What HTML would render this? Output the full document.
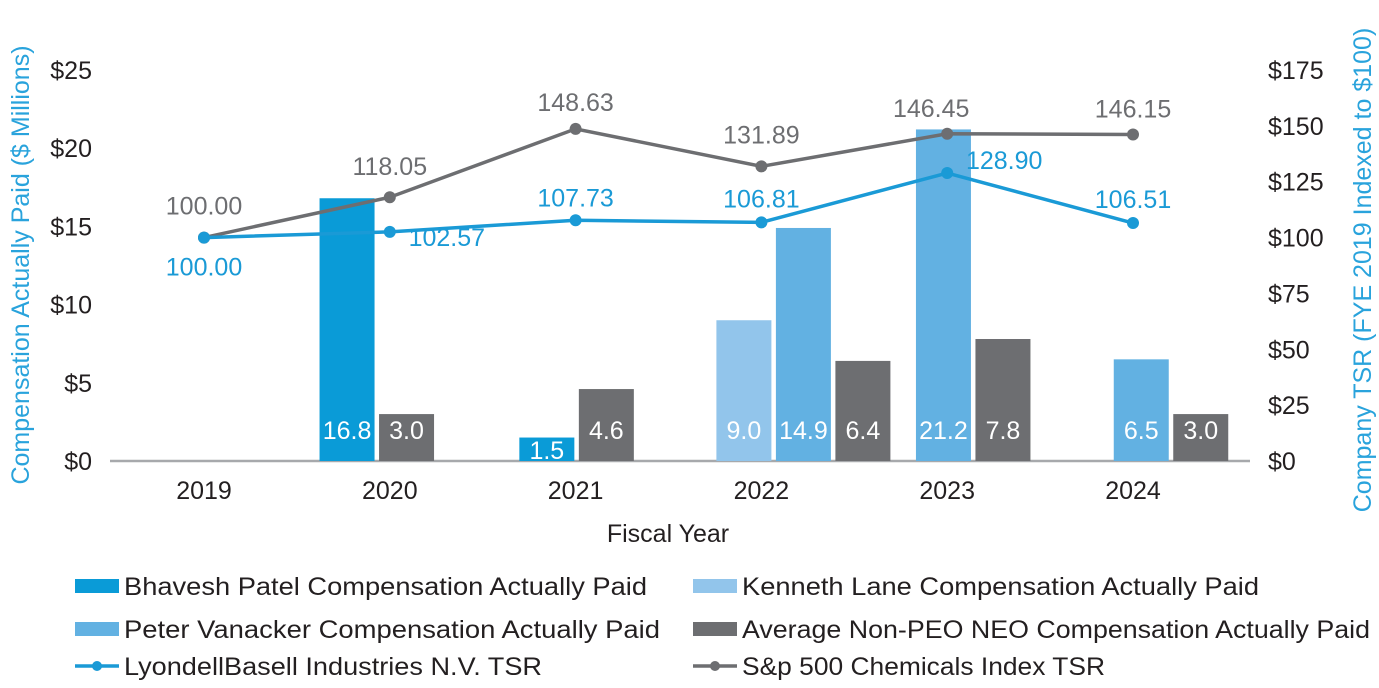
<!DOCTYPE html>
<html><head><meta charset="utf-8">
<style>
html,body{margin:0;padding:0;background:#fff;}
svg{display:block;font-family:"Liberation Sans Narrow","Liberation Sans",sans-serif;}
</style></head>
<body>
<svg id="chart" width="1379" height="688" viewBox="0 0 1379 688" xmlns="http://www.w3.org/2000/svg">
<g id="axes"></g>
<g id="bars"></g>
<g id="lines"></g>
<g id="legend"></g>
</svg>
<script>
const years = ["2019","2020","2021","2022","2023","2024"];
const bhavesh = [null, 16.8, 1.5, null, null, null];
const kenneth = [null, null, null, 9.0, null, null];
const peter = [null, null, null, 14.9, 21.2, 6.5];
const avgNeo = [null, 3.0, 4.6, 6.4, 7.8, 3.0];
const lybTsr = [100.00, 102.57, 107.73, 106.81, 128.90, 106.51];
const spTsr = [100.00, 118.05, 148.63, 131.89, 146.45, 146.15];
const leftTicks = [0, 5, 10, 15, 20, 25];
const rightTicks = [0, 25, 50, 75, 100, 125, 150, 175];

const NS = "http://www.w3.org/2000/svg";
const Y0 = 461, YTOP = 70;
const yL = v => Y0 - v * (Y0 - YTOP) / 25;
const yR = v => Y0 - v * (Y0 - YTOP) / 175;
const xC = i => 204 + i * 185.8;
const groupShift = [0, -13, 1, 42, 26, 38];
function mk(tag, attrs, parent, text) {
  const e = document.createElementNS(NS, tag);
  for (const k in attrs) e.setAttribute(k, attrs[k]);
  if (text !== undefined) e.textContent = text;
  parent.appendChild(e);
  return e;
}
const axes = document.getElementById('axes');
const barsG = document.getElementById('bars');
const linesG = document.getElementById('lines');
const legendG = document.getElementById('legend');

leftTicks.forEach(v => {
  const t = mk('text', {x: 92, y: yL(v) + 9, 'text-anchor': 'end', 'font-size': 25, fill: '#231f20'}, axes, '$' + v);
  
  
});
rightTicks.forEach(v => {
  const t = mk('text', {x: 1268, y: yR(v) + 9, 'font-size': 25, fill: '#231f20'}, axes, '$' + v);
  
  
});
years.forEach((y, i) => {
  const t = mk('text', {x: xC(i), y: 499, 'text-anchor': 'middle', 'font-size': 25, fill: '#231f20'}, axes, y);
  
  
});
let t = mk('text', {x: 668, y: 542, 'text-anchor': 'middle', 'font-size': 25, fill: '#231f20'}, axes, 'Fiscal Year');


t = mk('text', {x: 0, y: 0, 'text-anchor': 'middle', 'font-size': 25, fill: '#29a3dc', transform: 'translate(29,265) rotate(-90)'}, axes, 'Compensation Actually Paid ($ Millions)');


t = mk('text', {x: 0, y: 0, 'text-anchor': 'middle', 'font-size': 25, fill: '#29a3dc', transform: 'translate(1371,270) rotate(-90)'}, axes, 'Company TSR (FYE 2019 Indexed to $100)');



const series = [
  {vals: bhavesh, color: '#0a9bd7', name: 'bhavesh'},
  {vals: kenneth, color: '#92c5eb', name: 'kenneth'},
  {vals: peter, color: '#62b1e2', name: 'peter'},
  {vals: avgNeo, color: '#6d6e71', name: 'avg-neo'}
];
const BW = 55, GAP = 4.5;
years.forEach((y, i) => {
  const present = series.filter(s => s.vals[i] !== null);
  const total = present.length * BW + (present.length - 1) * GAP;
  let x = xC(i) + groupShift[i] - total / 2;
  present.forEach(s => {
    const v = s.vals[i];
    const r = mk('rect', {x: x, y: yL(v), width: BW, height: Y0 - yL(v), fill: s.color}, barsG);
    
    
    const ly = (Y0 - yL(v)) < 40 ? 459 : 439;
    const lbl = mk('text', {x: x + BW / 2, y: ly, 'text-anchor': 'middle', 'font-size': 25, fill: '#fff'}, barsG, v.toFixed(1));
    
    
    x += BW + GAP;
  });
});
const axisLine = mk('line', {x1: 110, y1: Y0, x2: 1250, y2: Y0, stroke: '#a7a9ac', 'stroke-width': 2.5}, axes);



function drawLine(vals, color, name, labelPos) {
  const pts = vals.map((v, i) => xC(i) + ',' + yR(v)).join(' ');
  const pl = mk('polyline', {points: pts, fill: 'none', stroke: color, 'stroke-width': 3.5}, linesG);
  
  
  vals.forEach((v, i) => {
    const c = mk('circle', {cx: xC(i), cy: yR(v), r: 6, fill: color}, linesG);
    
    
    const p = labelPos[i];
    const l = mk('text', {x: xC(i) + p[0], y: yR(v) + p[1], 'text-anchor': 'middle', 'font-size': 25, fill: color}, linesG, v.toFixed(2));
    
    
  });
}
drawLine(spTsr, '#6d6e71', 'sp500-chemicals-tsr', [[0,-23],[0,-22],[0,-18],[0,-23],[-16,-17],[0,-17]]);
drawLine(lybTsr, '#1a9ad6', 'lyondellbasell-tsr', [[0,38],[57,14],[0,-14],[0,-15],[57,-4],[0,-15]]);

const legendItems = [
  {x: 75, y: 586, color: '#0a9bd7', type: 'bar', text: 'Bhavesh Patel Compensation Actually Paid', w: 523},
  {x: 693, y: 586, color: '#92c5eb', type: 'bar', text: 'Kenneth Lane Compensation Actually Paid', w: 517},
  {x: 75, y: 629, color: '#62b1e2', type: 'bar', text: 'Peter Vanacker Compensation Actually Paid', w: 536},
  {x: 693, y: 629, color: '#6d6e71', type: 'bar', text: 'Average Non-PEO NEO Compensation Actually Paid', w: 628},
  {x: 75, y: 666, color: '#1a9ad6', type: 'line', text: 'LyondellBasell Industries N.V. TSR', w: 418},
  {x: 693, y: 666, color: '#6d6e71', type: 'line', text: 'S&p 500 Chemicals Index TSR', w: 363}
];
legendItems.forEach(it => {
  const g = mk('g', {}, legendG);
  
  
  if (it.type === 'bar') {
    mk('rect', {x: it.x, y: it.y - 7, width: 44, height: 14, fill: it.color}, g);
  } else {
    mk('line', {x1: it.x, y1: it.y, x2: it.x + 44, y2: it.y, stroke: it.color, 'stroke-width': 3.5}, g);
    mk('circle', {cx: it.x + 22, cy: it.y, r: 5, fill: it.color}, g);
  }
  mk('text', {x: it.x + 49, y: it.y + 9, 'font-size': 25, fill: '#231f20', textLength: it.w, lengthAdjust: 'spacingAndGlyphs'}, g, it.text);
});
</script>
</body></html>
